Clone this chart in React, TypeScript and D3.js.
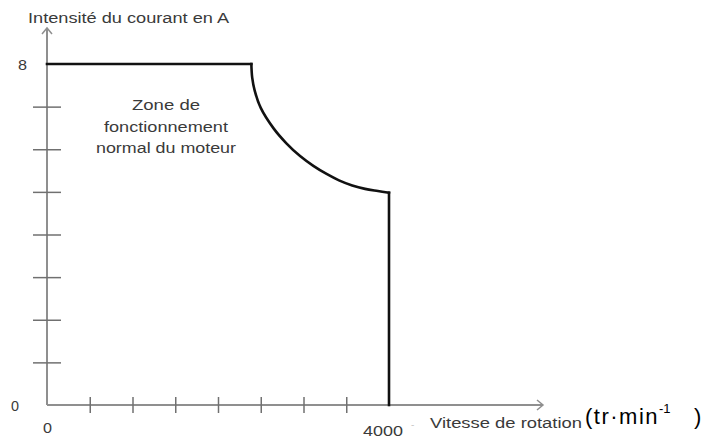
import React, { useEffect, useRef } from 'react'
import { axisBottom, axisLeft, curveCatmullRom, line, scaleLinear, select } from 'd3'

// courbe I = f(N)
const speed = [0, 2390, 2400, 2430, 2500, 2650, 2800, 2960, 3115, 3270, 3415, 3570, 3720, 3870, 4000, 4000]
const current = [8, 8, 7.68, 7.37, 6.97, 6.49, 6.14, 5.84, 5.61, 5.42, 5.27, 5.15, 5.07, 5.02, 4.98, 0]

const xTicks = [500, 1000, 1500, 2000, 2500, 3000, 3500]
const yTicks = [1, 2, 3, 4, 5, 6, 7]

const yAxisTitle = 'Intensité du courant en A'
const xAxisTitle = 'Vitesse de rotation'
const zoneLabel = ['Zone de', 'fonctionnement', 'normal du moteur']

const App = () => {
  const ref = useRef<SVGSVGElement>(null)

  useEffect(() => {
    document.body.style.margin = '0'
    main()
  }, [])

  const main = () => {
    const svg = select(ref.current)
    svg.selectAll('*').remove()

    const width = 704,
      height = 439

    svg.attr('width', width).attr('height', height)

    const x = scaleLinear().domain([0, 4000]).range([47, 389])
    const y = scaleLinear().domain([0, 8]).range([405, 64])

    const axisColor = '#8f8f8f'
    const textColor = '#3a3a3a'
    const font = 'Arial, "Liberation Sans", sans-serif'

    // axes lines with arrows
    svg.append('line')
      .attr('x1', x(0)).attr('y1', y(0))
      .attr('x2', 543).attr('y2', y(0))
      .attr('stroke', axisColor).attr('stroke-width', 2)
    svg.append('path')
      .attr('d', `M537,${y(0) - 5} L543,${y(0)} L537,${y(0) + 5}`)
      .attr('fill', 'none').attr('stroke', axisColor).attr('stroke-width', 1.5)

    svg.append('line')
      .attr('x1', x(0)).attr('y1', y(0))
      .attr('x2', x(0)).attr('y2', 28)
      .attr('stroke', axisColor).attr('stroke-width', 2)
    svg.append('path')
      .attr('d', `M${x(0) - 5},34 L${x(0)},28 L${x(0) + 5},34`)
      .attr('fill', 'none').attr('stroke', axisColor).attr('stroke-width', 1.5)

    // ticks crossing the axes
    const gx = svg.append('g')
      .attr('transform', `translate(0, ${y(0)})`)
      .call(axisBottom(x).tickValues(xTicks).tickSize(8).tickFormat(() => ''))
    gx.select('.domain').remove()
    gx.selectAll('line').attr('y1', -8).attr('stroke', '#707070').attr('stroke-width', 1.5)

    const gy = svg.append('g')
      .attr('transform', `translate(${x(0)}, 0)`)
      .call(axisLeft(y).tickValues(yTicks).tickSize(14).tickFormat(() => ''))
    gy.select('.domain').remove()
    gy.selectAll('line').attr('x1', 14).attr('stroke', '#707070').attr('stroke-width', 1.5)

    // curve
    const pts = speed.map((s, i) => [s, current[i]] as [number, number])
    const n = pts.length
    const straight = line<[number, number]>().x((d) => x(d[0])).y((d) => y(d[1]))
    const smooth = line<[number, number]>().x((d) => x(d[0])).y((d) => y(d[1])).curve(curveCatmullRom.alpha(0.5))

    const curve = svg.append('g')
      .attr('fill', 'none')
      .attr('stroke', '#111')
      .attr('stroke-width', 2.6)
      .attr('stroke-linecap', 'square')
      .attr('stroke-linejoin', 'miter')
    curve.append('path').attr('d', straight(pts.slice(0, 2)))
    curve.append('path').attr('d', smooth(pts.slice(1, n - 1)))
    curve.append('path').attr('d', straight(pts.slice(n - 2)))

    // texts
    const txt = (s, tx, ty, size, len?, anchor = 'start') => {
      const t = svg.append('text')
        .attr('x', tx).attr('y', ty)
        .attr('font-family', font)
        .attr('font-size', size)
        .attr('fill', textColor)
        .attr('text-anchor', anchor)
        .text(s)
      if (len) t.attr('textLength', len).attr('lengthAdjust', 'spacingAndGlyphs')
      return t
    }

    txt(yAxisTitle, 28, 23, 14, 201)
    txt('8', 18, y(8) + 6, 14, 9)
    txt('0', 11, y(0) + 6, 14, 8)
    txt('0', 43, 433, 14, 9)
    txt('4000', 363, 436, 14, 40)
    txt('-', 411, 428, 10).attr('fill', '#c8c8c8')
    txt(xAxisTitle, 430, 428, 14, 152)

    const zx = 166
    txt(zoneLabel[0], zx, 110, 14, 68, 'middle')
    txt(zoneLabel[1], zx, 132, 14, 124, 'middle')
    txt(zoneLabel[2], zx, 153, 14, 140, 'middle')

    // unit
    const unitFont = '"Liberation Sans", Arial, sans-serif'
    svg.append('text')
      .attr('x', 585).attr('y', 424)
      .attr('font-family', unitFont).attr('font-size', 22).attr('fill', '#000')
      .attr('letter-spacing', 1.5)
      .text('(tr·min')
    svg.append('text')
      .attr('x', 659).attr('y', 413)
      .attr('font-family', unitFont).attr('font-size', 13).attr('fill', '#000')
      .text('-1')
    svg.append('text')
      .attr('x', 694).attr('y', 424)
      .attr('font-family', unitFont).attr('font-size', 22).attr('fill', '#000')
      .text(')')
  }

  return (
    <div style={{ position: 'absolute', left: 0, top: 0 }}>
      <svg ref={ref} style={{ display: 'block', background: '#fff' }}></svg>
    </div>
  )
}

export default App
